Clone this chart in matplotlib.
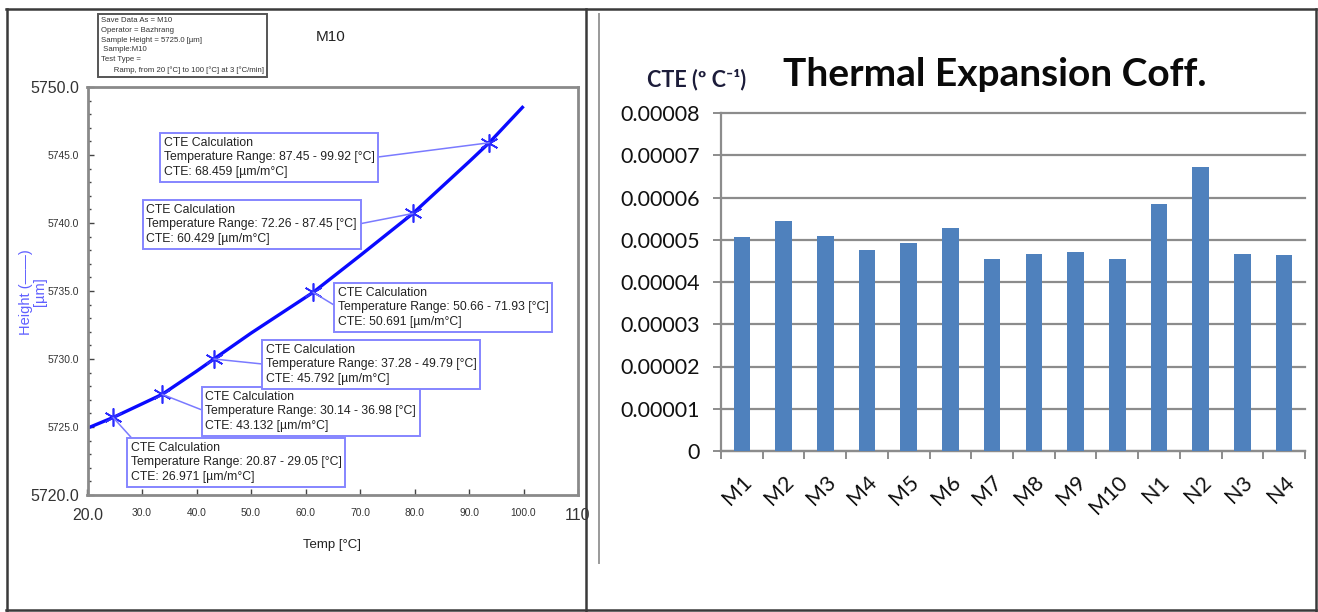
import matplotlib.pyplot as plt
from matplotlib.lines import Line2D
from matplotlib.ticker import FuncFormatter, MultipleLocator

plt.rcParams['font.family'] = ['Liberation Sans', 'DejaVu Sans']

W, H = 1318, 612

# ---- left panel : dilatometer curve of sample M10
curve_temp = [20.5, 24.7, 30.0, 33.7, 40.0, 43.2, 50.0, 61.4, 70.0, 79.7, 90.0, 93.7, 99.8]
curve_height = [5725.0, 5725.7, 5726.7, 5727.4, 5729.1, 5730.0, 5731.9, 5734.9,
                5737.6, 5740.7, 5744.5, 5745.9, 5748.5]

mark_temp = [24.7, 33.7, 43.2, 61.4, 79.7, 93.7]
mark_height = [5725.7, 5727.4, 5730.0, 5734.9, 5740.7, 5745.9]
cte_ranges = ['20.87 - 29.05', '30.14 - 36.98', '37.28 - 49.79',
              '50.66 - 71.93', '72.26 - 87.45', '87.45 - 99.92']
cte_values = ['26.971', '43.132', '45.792', '50.691', '60.429', '68.459']

xtick_vals = [20, 30, 40, 50, 60, 70, 80, 90, 100, 110]
xtick_text = ['20.0', '30.0', '40.0', '50.0', '60.0', '70.0', '80.0', '90.0', '100.0', '110']
ytick_vals = [5720, 5725, 5730, 5735, 5740, 5745, 5750]
ytick_text = ['5720.0', '5725.0', '5730.0', '5735.0', '5740.0', '5745.0', '5750.0']

info_lines = ['Save Data As = M10', 'Operator = Bazhrang', 'Sample Height = 5725.0 [\u00b5m]',
              ' Sample:M10', 'Test Type =', '      Ramp, from 20 [\u00b0C] to 100 [\u00b0C] at 3 [\u00b0C/min]']

# ---- right panel : CTE of all samples
samples = ['M1', 'M2', 'M3', 'M4', 'M5', 'M6', 'M7', 'M8', 'M9', 'M10', 'N1', 'N2', 'N3', 'N4']
cte = [5.06e-5, 5.45e-5, 5.10e-5, 4.76e-5, 4.93e-5, 5.28e-5, 4.55e-5,
       4.67e-5, 4.72e-5, 4.54e-5, 5.84e-5, 6.73e-5, 4.67e-5, 4.63e-5]


def fx(x):
    return x / W


def fy(y):
    return 1 - y / H


fig = plt.figure(figsize=(W / 100, H / 100), dpi=100)

# ============ left plot
ax = fig.add_axes([fx(87.5), fy(495), (578 - 87.5) / W, (495 - 87) / H])
ax.plot(curve_temp, curve_height, color='#0a0aff', lw=2.4)
ax.plot(mark_temp, mark_height, ls='none', marker=(6, 2, 0), ms=13, mew=1.2, color='#2a2aff')
ax.set_xlim(20, 110)
ax.set_ylim(5720, 5750)
ax.set_xticks(xtick_vals, xtick_text)
ax.set_yticks(ytick_vals, ytick_text)
ax.yaxis.set_minor_locator(MultipleLocator(1))
ax.tick_params(which='both', direction='in', color='#444444', labelcolor='#333333',
               labelsize=7.4, pad=6)
ax.tick_params(which='major', length=4, width=1)
ax.tick_params(which='minor', length=2.5, width=1)
ax.tick_params(axis='x', pad=9)
for lst in (ax.get_xticklabels(), ax.get_yticklabels()):
    lst[0].set_fontsize(11.5)
    lst[-1].set_fontsize(11.5)
for s in ax.spines.values():
    s.set_color('#8a8a8a')
    s.set_linewidth(2)

box_pos = [(0.081, 0.140), (0.233, 0.265), (0.356, 0.380),
           (0.503, 0.520), (0.113, 0.723), (0.148, 0.887)]
rel = [(0.02, 1), (0, 0.5), (0, 0.5), (0, 0.5), (1, 0.5), (1, 0.5)]
for i in range(len(mark_temp)):
    txt = 'CTE Calculation\nTemperature Range: %s [\u00b0C]\nCTE: %s [\u00b5m/m\u00b0C]' % (cte_ranges[i], cte_values[i])
    ax.annotate(txt, xy=(mark_temp[i], mark_height[i]),
                xytext=(box_pos[i][0] + 0.007, box_pos[i][1] - 0.009), textcoords='axes fraction',
                ha='left', va='top', fontsize=8.8, color='#222222', linespacing=1.3,
                bbox=dict(boxstyle='square,pad=0.3', fc='white', ec='#8585ff', lw=1.4),
                arrowprops=dict(arrowstyle='-', color='#7a7aff', lw=1.1, shrinkA=0, shrinkB=0,
                                relpos=rel[i]))

fig.text(fx(332), fy(545), 'Temp [\u00b0C]', ha='center', va='center', fontsize=9.5, color='#222222')
fig.text(fx(33), fy(292), 'Height (\u2014\u2014)\n[\u00b5m]', rotation=90, ha='center', va='center',
         multialignment='center', fontsize=10.5, color='#6060ff', linespacing=0.95)
fig.text(fx(331), fy(37), 'M10', ha='center', va='center', fontsize=11, color='#222222')
fig.text(fx(101), fy(17), '\n'.join(info_lines), ha='left', va='top', fontsize=5.6,
         color='#333333', linespacing=1.55,
         bbox=dict(boxstyle='square,pad=0.35', fc='white', ec='#555555', lw=1.4))

# ============ right plot
ax2 = fig.add_axes([fx(721), fy(451), (1305 - 721) / W, (451 - 113) / H])
pos = list(range(len(samples)))
ax2.bar(pos, cte, width=0.4, color='#4f81bd', zorder=3)
ax2.set_xlim(-0.5, len(samples) - 0.5)
ax2.set_ylim(0, 0.00008)
ax2.yaxis.set_major_locator(MultipleLocator(0.00001))
ax2.yaxis.set_major_formatter(FuncFormatter(lambda v, p: '0' if v == 0 else '%.5f' % v))
ax2.grid(axis='y', color='#8c8c8c', lw=1.6, zorder=0)
for gl in ax2.get_ygridlines():
    gl.set_clip_on(False)
ax2.set_xticks(pos, samples, rotation=45, ha='right', rotation_mode='anchor')
ax2.set_xticks([p - 0.5 for p in pos] + [len(samples) - 0.5], minor=True)
ax2.tick_params(axis='x', which='major', length=0, pad=15)
ax2.tick_params(axis='x', which='minor', length=6, width=1.4, color='#8c8c8c')
ax2.tick_params(axis='y', length=6, width=1.4, color='#8c8c8c', pad=9)
for lab in ax2.get_xticklabels() + ax2.get_yticklabels():
    lab.set_family(['Lato', 'DejaVu Sans'])
    lab.set_fontsize(15.5)
    lab.set_color('#111111')
for side in ('top', 'right'):
    ax2.spines[side].set_visible(False)
for side in ('left', 'bottom'):
    ax2.spines[side].set_color('#8c8c8c')
    ax2.spines[side].set_linewidth(1.6)

fig.text(fx(995), fy(74), 'Thermal Expansion Coff.', ha='center', va='center', fontsize=28,
         fontweight='bold', family=['Lato', 'DejaVu Sans'], color='#0a0a0a')
fig.text(fx(697), fy(80), 'CTE (\u00ba C\u207b\u00b9)', ha='center', va='center', fontsize=15.5,
         fontweight='bold', family=['Lato', 'DejaVu Sans'], color='#1c1c3a')

# ============ panel frames
frame = [((6, 1316), (9, 9)), ((7, 7), (9, 611)), ((6, 1316), (610, 610)),
         ((1316, 1316), (9, 611)), ((586, 586), (9, 611))]
for xs, ys in frame:
    fig.add_artist(Line2D([fx(xs[0]), fx(xs[1])], [fy(ys[0]), fy(ys[1])], color='#3a3a3a', lw=1.8))
fig.add_artist(Line2D([fx(599), fx(599)], [fy(14), fy(563)], color='#9a9a9a', lw=1.4))

fig.savefig('out.png', dpi=100)
